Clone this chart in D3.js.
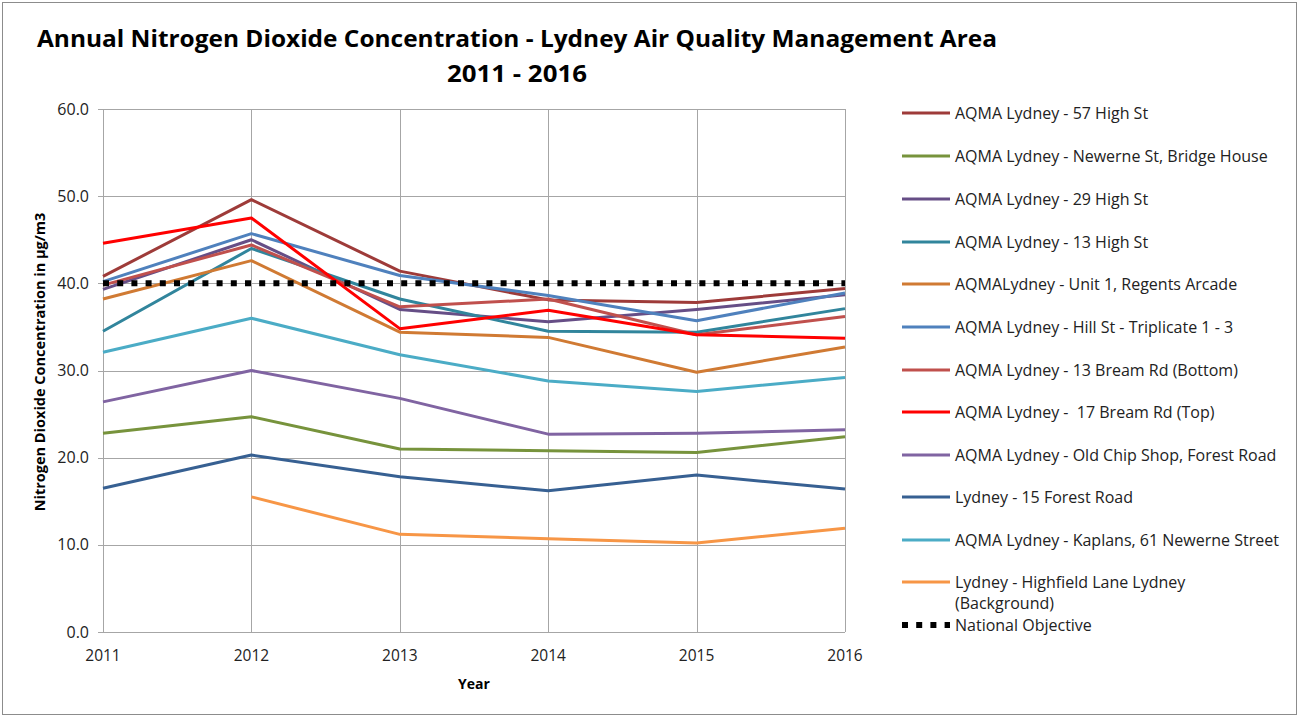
<!DOCTYPE html>
<html>
<head>
<meta charset="utf-8">
<script src="https://cdn.jsdelivr.net/npm/d3@7"></script>
<style>
  body { margin: 0; background: #fff; }
  text { font-family: "Open Sans", "Noto Sans", sans-serif; }
</style>
</head>
<body>
<div id="chart"></div>
<script>
const years = [2011, 2012, 2013, 2014, 2015, 2016];
const yTicks = [0, 10, 20, 30, 40, 50, 60];

const highSt57 = [40.8, 49.6, 41.4, 38.1, 37.8, 39.4];
const newerneBridge = [22.8, 24.7, 21.0, 20.8, 20.6, 22.4];
const highSt29 = [39.3, 45.0, 37.0, 35.6, 37.0, 38.7];
const highSt13 = [34.5, 44.0, 38.2, 34.5, 34.4, 37.1];
const regentsArcade = [38.2, 42.6, 34.4, 33.8, 29.8, 32.7];
const hillSt = [40.2, 45.7, 40.9, 38.6, 35.7, 38.9];
const breamBottom = [39.8, 44.4, 37.3, 38.2, 34.1, 36.2];
const breamTop = [44.6, 47.5, 34.8, 36.9, 34.1, 33.7];
const oldChipShop = [26.4, 30.0, 26.8, 22.7, 22.8, 23.2];
const forestRd15 = [16.5, 20.3, 17.8, 16.2, 18.0, 16.4];
const kaplans = [32.1, 36.0, 31.8, 28.8, 27.6, 29.2];
const highfield = [null, 15.5, 11.2, 10.7, 10.2, 11.9];
const nationalObjective = [40, 40, 40, 40, 40, 40];

const seriesNames = [
  "AQMA Lydney - 57 High St",
  "AQMA Lydney - Newerne St, Bridge House",
  "AQMA Lydney - 29 High St",
  "AQMA Lydney - 13 High St",
  "AQMALydney - Unit 1, Regents Arcade",
  "AQMA Lydney - Hill St - Triplicate 1 - 3",
  "AQMA Lydney - 13 Bream Rd (Bottom)",
  "AQMA Lydney -  17 Bream Rd (Top)",
  "AQMA Lydney - Old Chip Shop, Forest Road",
  "Lydney - 15 Forest Road",
  "AQMA Lydney - Kaplans, 61 Newerne Street",
  "Lydney - Highfield Lane Lydney\n(Background)",
  "National Objective"
];
const seriesValues = [highSt57, newerneBridge, highSt29, highSt13, regentsArcade, hillSt,
  breamBottom, breamTop, oldChipShop, forestRd15, kaplans, highfield, nationalObjective];
const seriesColors = ["#9e3b39", "#77933c", "#664e86", "#31859c", "#d07a33", "#4f81bd",
  "#c0504d", "#ff0000", "#8064a2", "#376092", "#4bacc6", "#f79646", "#000000"];

const width = 1299, height = 717;
const svg = d3.select("#chart").append("svg")
  .attr("width", width).attr("height", height);

svg.append("rect").attr("x", 0).attr("y", 0).attr("width", width).attr("height", height).attr("fill", "#fff");
svg.append("rect").attr("x", 2.5).attr("y", 2.5).attr("width", width - 5).attr("height", height - 5)
  .attr("fill", "none").attr("stroke", "#8c8c8c").attr("stroke-width", 1);

const x = d3.scalePoint().domain(years).range([103, 845]);
const y = d3.scaleLinear().domain([0, 60]).range([632, 109]);

// grid
svg.append("g").selectAll("line").data(yTicks).join("line")
  .attr("x1", 98).attr("x2", 845)
  .attr("y1", d => Math.round(y(d)) + 0.5).attr("y2", d => Math.round(y(d)) + 0.5)
  .attr("stroke", "#a6a6a6").attr("stroke-width", 1);
svg.append("g").selectAll("line").data(years).join("line")
  .attr("x1", d => Math.round(x(d)) + 0.5).attr("x2", d => Math.round(x(d)) + 0.5)
  .attr("y1", 109).attr("y2", 632)
  .attr("stroke", "#a6a6a6").attr("stroke-width", 1);

// tick labels
svg.append("g").selectAll("text").data(yTicks).join("text")
  .attr("x", 89).attr("y", d => y(d)).attr("dy", "0.35em")
  .attr("text-anchor", "end").attr("font-size", 16).attr("fill", "#222")
  .text(d => d3.format(".1f")(d));
svg.append("g").selectAll("text").data(years).join("text")
  .attr("x", d => x(d)).attr("y", 661)
  .attr("text-anchor", "middle").attr("font-size", 15.5).attr("fill", "#222")
  .text(d => d);

// axis titles
svg.append("text").attr("x", 474).attr("y", 689).attr("text-anchor", "middle")
  .attr("font-size", 14).attr("font-weight", "bold").text("Year");
svg.append("text").attr("transform", "translate(45,362) rotate(-90)")
  .attr("text-anchor", "middle").attr("font-size", 14.5).attr("font-weight", "bold")
  .text("Nitrogen Dioxide Concentration in µg/m3");

// chart title
svg.append("text").attr("x", 517).attr("y", 47).attr("text-anchor", "middle")
  .attr("font-size", 24).attr("font-weight", "bold")
  .attr("textLength", 960).attr("lengthAdjust", "spacingAndGlyphs")
  .text("Annual Nitrogen Dioxide Concentration - Lydney Air Quality Management Area");
svg.append("text").attr("x", 517).attr("y", 82).attr("text-anchor", "middle")
  .attr("font-size", 24).attr("font-weight", "bold")
  .attr("textLength", 140).attr("lengthAdjust", "spacingAndGlyphs")
  .text("2011 - 2016");

// series lines
const line = d3.line()
  .defined(d => d.v != null)
  .x(d => x(d.year)).y(d => y(d.v));

seriesValues.forEach((vals, i) => {
  const pts = years.map((yr, j) => ({ year: yr, v: vals[j] }));
  const isObj = i === seriesValues.length - 1;
  svg.append("path").datum(pts)
    .attr("d", line)
    .attr("fill", "none")
    .attr("stroke", seriesColors[i])
    .attr("stroke-width", isObj ? 6 : 3)
    .attr("stroke-dasharray", isObj ? "6 8.2" : null)
    .attr("stroke-linejoin", "round");
});

// legend
const legendY = [113, 156, 199, 242, 284, 327, 370, 412, 455, 497, 540, 582, 625];
const legend = svg.append("g");
seriesNames.forEach((name, i) => {
  const isObj = i === seriesNames.length - 1;
  legend.append("line")
    .attr("x1", 902).attr("x2", 950)
    .attr("y1", legendY[i]).attr("y2", legendY[i])
    .attr("stroke", seriesColors[i])
    .attr("stroke-width", isObj ? 6 : 3)
    .attr("stroke-dasharray", isObj ? "6 8.2" : null);
  const t = legend.append("text")
    .attr("x", 955).attr("y", legendY[i])
    .attr("font-size", 16).attr("fill", "#222");
  name.split("\n").forEach((part, k) => {
    t.append("tspan").attr("x", 955).attr("dy", k === 0 ? "0.35em" : "1.35em")
      .attr("xml:space", "preserve").text(part);
  });
});
</script>
</body>
</html>
